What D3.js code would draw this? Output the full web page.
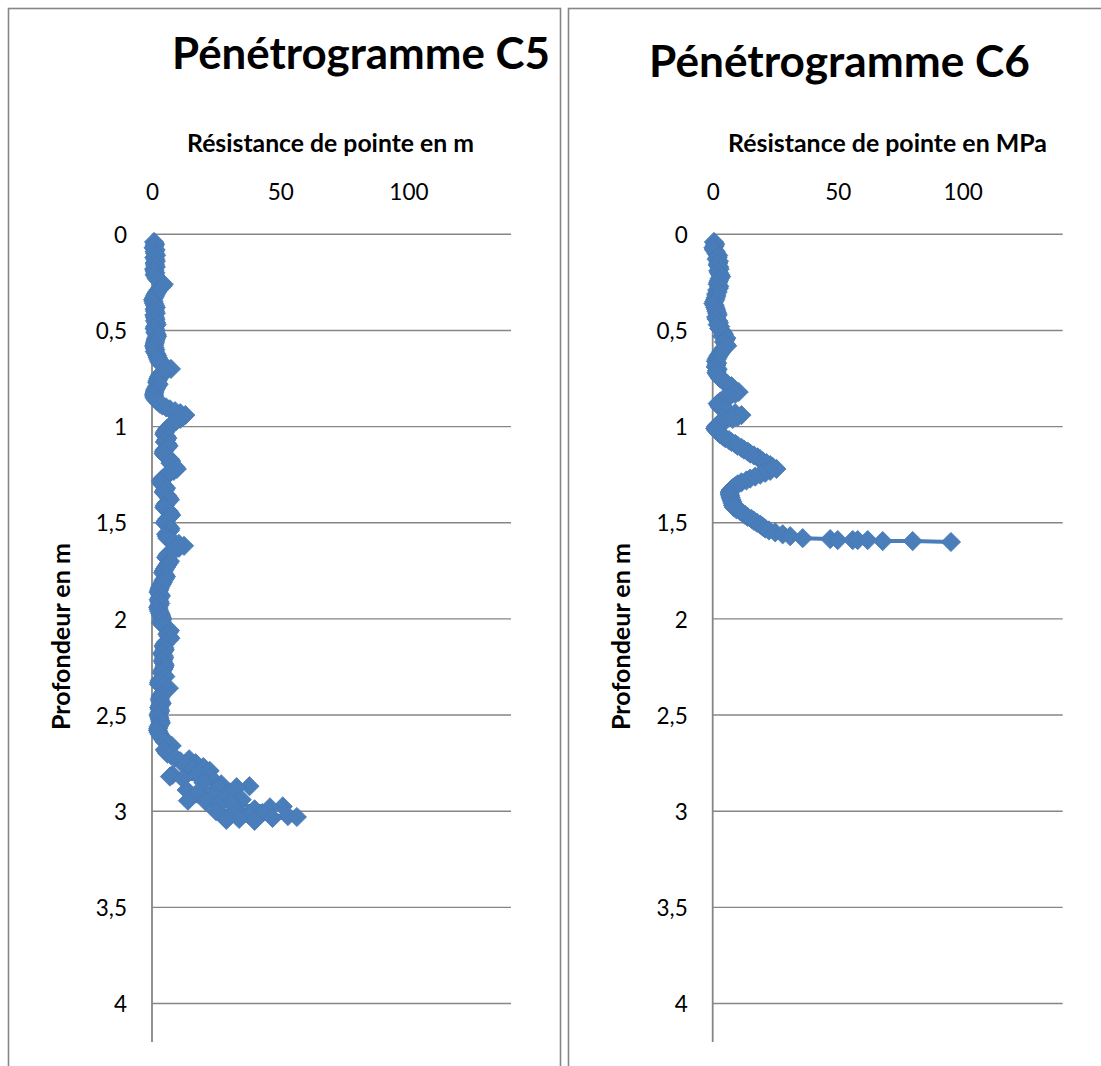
<!DOCTYPE html>
<html><head><meta charset="utf-8">
<script src="https://cdn.jsdelivr.net/npm/d3@7"></script>
<style>
body{margin:0;background:#fff}
svg{display:block}
text{font-family:Lato,"Open Sans",sans-serif;fill:#000}
</style>
</head><body>
<svg id="c" width="1101" height="1066"></svg>
<script>
// ---------- data : C5 ----------
const depthC5 = [
0.04,0.05,0.06,0.07,0.08,0.09,0.10,0.11,0.12,0.13,
0.14,0.15,0.16,0.17,0.18,0.19,0.20,0.21,0.22,0.23,
0.24,0.25,0.26,0.27,0.28,0.29,0.30,0.31,0.32,0.33,
0.34,0.35,0.36,0.37,0.38,0.39,0.40,0.41,0.42,0.43,
0.44,0.45,0.46,0.47,0.48,0.49,0.50,0.51,0.52,0.53,
0.54,0.55,0.56,0.57,0.58,0.59,0.60,0.61,0.62,0.63,
0.64,0.65,0.66,0.67,0.68,0.69,0.70,0.71,0.72,0.73,
0.74,0.75,0.76,0.77,0.78,0.79,0.80,0.81,0.82,0.83,
0.84,0.85,0.86,0.87,0.88,0.89,0.90,0.91,0.92,0.93,
0.94,0.95,0.96,0.97,0.98,0.99,1.00,1.01,1.02,1.03,
1.04,1.05,1.06,1.07,1.08,1.09,1.10,1.11,1.12,1.13,
1.14,1.15,1.16,1.17,1.18,1.19,1.20,1.21,1.22,1.23,
1.24,1.25,1.26,1.27,1.28,1.29,1.30,1.31,1.32,1.33,
1.34,1.35,1.36,1.37,1.38,1.39,1.40,1.41,1.42,1.43,
1.44,1.45,1.46,1.47,1.48,1.49,1.50,1.51,1.52,1.53,
1.54,1.55,1.56,1.57,1.58,1.59,1.60,1.61,1.62,1.63,
1.64,1.65,1.66,1.67,1.68,1.69,1.70,1.71,1.72,1.73,
1.74,1.75,1.76,1.77,1.78,1.79,1.80,1.81,1.82,1.83,
1.84,1.85,1.86,1.87,1.88,1.89,1.90,1.91,1.92,1.93,
1.94,1.95,1.96,1.97,1.98,1.99,2.00,2.01,2.02,2.03,
2.04,2.05,2.06,2.07,2.08,2.09,2.10,2.11,2.12,2.13,
2.14,2.15,2.16,2.17,2.18,2.19,2.20,2.21,2.22,2.23,
2.24,2.25,2.26,2.27,2.28,2.29,2.30,2.31,2.32,2.33,
2.34,2.35,2.36,2.37,2.38,2.39,2.40,2.41,2.42,2.43,
2.44,2.45,2.46,2.47,2.48,2.49,2.50,2.51,2.52,2.53,
2.54,2.55,2.56,2.57,2.58,2.59,2.60,2.61,2.62,2.63,
2.64,2.65,2.66,2.67,2.68,2.69,
2.70,2.71,2.72,2.73,2.74,2.75,2.76,2.77,2.78,2.79,
2.80,2.81,2.82,2.83,2.84,2.85,2.86,2.87,2.875,2.88,
2.89,2.90,2.91,2.92,2.93,2.94,2.945,2.95,2.96,2.97,
2.975,2.98,2.99,3.00,3.005,3.01,3.02,3.025,3.03,3.035,
3.04,3.045,3.05];
const qcC5 = [
0.8,1.2,1.0,0.6,1.4,1.0,1.2,1.6,0.9,1.3,
1.5,1.0,1.2,1.5,0.8,1.0,1.3,1.0,1.5,1.8,
2.5,3.5,4.6,4.0,3.2,2.5,2.0,1.5,1.2,0.8,
0.4,0.6,0.8,1.2,1.5,1.0,1.2,1.5,0.9,1.1,
1.4,1.2,1.6,1.8,1.2,1.0,1.5,1.3,1.8,2.0,
1.6,1.4,1.2,1.0,0.8,1.0,1.3,1.1,1.6,2.0,
2.2,2.5,2.8,3.2,4.0,5.5,7.4,5.5,4.0,3.2,
2.8,2.5,2.2,2.0,2.6,2.0,1.6,1.2,1.0,0.8,
0.8,1.0,1.5,2.2,3.0,4.0,5.5,7.0,9.0,11.0,
13.0,12.0,11.0,9.5,8.5,7.5,7.0,6.0,5.5,5.0,
4.8,5.5,6.0,5.5,5.0,6.0,6.5,5.8,5.0,4.6,
4.5,5.2,6.0,7.0,7.5,7.2,8.0,9.0,9.7,8.5,
7.0,6.0,5.0,4.2,3.5,3.6,4.0,4.8,5.5,5.0,
4.5,5.2,6.0,6.5,7.0,6.2,5.5,5.0,4.8,5.5,
6.5,7.0,7.5,6.8,6.0,5.5,5.0,5.8,6.5,7.2,
7.0,6.2,5.5,5.8,6.0,7.0,8.5,10.5,12.5,10.5,
9.0,7.5,6.5,6.0,5.5,6.2,7.0,6.5,6.0,5.5,
5.0,4.6,4.3,5.0,5.5,5.0,4.5,4.2,3.8,3.4,
3.0,2.8,2.5,3.0,3.5,3.0,2.6,2.9,3.2,2.8,
2.4,2.6,2.8,3.2,3.5,3.8,4.0,3.8,3.5,4.2,
5.0,6.0,7.0,6.5,6.0,6.5,7.2,6.5,5.5,5.0,
4.5,4.8,5.0,4.5,4.0,4.4,4.8,4.5,4.2,4.6,
5.0,4.8,4.5,4.0,3.8,4.5,5.2,4.0,3.0,2.8,
2.7,4.5,6.6,5.5,4.5,4.0,3.5,3.2,3.0,3.4,
3.8,3.2,2.8,3.0,3.2,2.8,2.5,2.8,3.0,3.2,
3.5,3.0,2.6,2.4,2.3,2.6,3.0,3.5,4.0,4.5,
5.0,6.5,7.7,6.2,5.0,5.5,
6.0,7.5,9.0,14.5,11.0,17.0,13.0,20.0,16.0,22.5,
18.0,8.0,7.0,12.0,24.0,20.0,27.0,38.0,33.0,26.0,
13.5,18.0,30.0,24.0,28.0,35.0,14.0,21.0,31.0,26.0,
51.0,46.0,40.0,25.0,33.0,43.0,38.0,53.0,56.5,47.0,
34.0,29.0,40.0];

// ---------- data : C6 ----------
const depthC6 = [
0.04,0.05,0.06,0.07,0.08,0.09,0.10,0.11,0.12,0.13,
0.14,0.15,0.16,0.17,0.18,0.19,0.20,0.21,0.22,0.23,
0.24,0.25,0.26,0.27,0.28,0.29,0.30,0.31,0.32,0.33,
0.34,0.35,0.36,0.37,0.38,0.39,0.40,0.41,0.42,0.43,
0.44,0.45,0.46,0.47,0.48,0.49,0.50,0.51,0.52,0.53,
0.54,0.55,0.56,0.57,0.58,0.59,0.60,0.61,0.62,0.63,
0.64,0.65,0.66,0.67,0.68,0.69,0.70,0.71,0.72,0.73,
0.74,0.75,0.76,0.77,0.78,0.79,0.80,0.81,0.82,0.83,
0.84,0.85,0.86,0.87,0.88,0.89,0.90,0.91,0.92,0.93,
0.94,0.95,0.96,0.97,0.98,0.99,1.00,1.01,1.02,1.03,
1.04,1.05,1.06,1.07,1.08,1.09,1.10,1.11,1.12,1.13,
1.14,1.15,1.16,1.17,1.18,1.19,1.20,1.21,1.22,1.23,
1.24,1.25,1.26,1.27,1.28,1.29,1.30,1.31,1.32,1.33,
1.34,1.35,1.36,1.37,1.38,1.39,1.40,1.41,1.42,1.43,
1.44,1.45,1.46,1.47,1.48,1.49,1.50,1.51,1.52,1.53,
1.54,1.55,1.56,1.57,1.58,1.585,1.59,1.59,1.59,1.59,
1.595,1.595,1.60];
const qcC6 = [
0.5,1.0,0.8,0.3,0.5,1.2,1.5,2.2,2.0,1.6,
2.5,2.2,2.0,2.6,2.8,2.2,2.5,3.0,3.4,2.8,
2.5,2.2,2.0,2.6,2.5,1.8,2.0,1.4,1.5,1.2,
1.0,0.6,0.3,0.8,1.0,1.3,1.5,1.8,2.0,1.4,
1.5,2.2,2.5,2.0,3.0,2.6,3.5,4.0,4.5,3.8,
5.5,5.0,4.5,5.2,5.8,4.6,4.0,3.5,3.0,2.4,
2.0,1.6,1.3,1.8,1.5,1.2,2.0,1.7,1.5,2.0,
2.5,3.0,4.0,5.0,6.0,7.5,8.0,9.0,10.4,9.0,
7.0,5.5,4.0,3.0,2.0,2.5,3.0,4.5,6.0,9.0,
11.5,10.0,8.0,5.0,3.0,2.0,1.3,1.0,1.5,2.2,
3.0,4.0,5.0,6.5,7.5,9.0,10.0,11.5,12.5,14.0,
15.0,16.5,18.0,19.0,20.0,21.5,23.0,24.0,25.5,23.0,
21.0,19.0,17.0,15.0,13.5,11.5,10.0,9.0,8.0,7.2,
6.8,6.8,7.0,7.2,7.5,7.8,8.0,8.2,8.5,9.5,
11.0,12.0,13.0,14.0,15.5,16.5,17.7,19.0,20.0,21.0,
22.5,25.0,28.0,31.0,36.0,47.0,50.0,56.0,58.0,62.0,
68.0,80.0,95.3];

const xTicks = [0,50,100];
const yTicks = [0,0.5,1,1.5,2,2.5,3,3.5,4];
const chartTitles = ["Pénétrogramme C5","Pénétrogramme C6"];
const xAxisTitles = ["Résistance de pointe en m","Résistance de pointe en MPa"];
const yAxisTitles = ["Profondeur en m","Profondeur en m"];

// ---------- layout ----------
const panels = [
  {frameX:8.5, left:152, right:511, titleX:361, titleY:52, xtX:330.5, title:chartTitles[0], xt:xAxisTitles[0], yt:yAxisTitles[0], depth:depthC5, qc:qcC5},
  {frameX:568.5, left:712.7, right:1062.7, titleX:839.5, titleY:59, xtX:887.5, title:chartTitles[1], xt:xAxisTitles[1], yt:yAxisTitles[1], depth:depthC6, qc:qcC6}
];
const titleW = [378, 381], xtW = [287, 319];
const plotTop = 234.3, plotBottom = 1042;
const grey = "#868686", blue = "#4A7EBB";
const fmt = v => String(v).replace(".", ",");

const svg = d3.select("#c");

function fit(sel, w){
  const L = sel.node().getComputedTextLength();
  const fs = parseFloat(sel.attr("font-size"));
  sel.attr("font-size", fs * w / L);
}

panels.forEach((p, i) => {
  const g = svg.append("g");
  g.append("rect").attr("x", p.frameX).attr("y", 8.5).attr("width", 552).attr("height", 1100)
    .attr("fill", "none").attr("stroke", grey).attr("stroke-width", 1.6);

  const x = d3.scaleLinear().domain([0, 140]).range([p.left, p.right]);
  const y = d3.scaleLinear().domain([0, 4.2]).range([plotTop, plotBottom]);

  g.append("g").selectAll("line").data(yTicks).join("line")
    .attr("x1", x(0)).attr("x2", x(140)).attr("y1", d => y(d)).attr("y2", d => y(d))
    .attr("stroke", grey).attr("stroke-width", 1.4);

  g.append("line").attr("x1", x(0)).attr("x2", x(0)).attr("y1", y(0)).attr("y2", y(4.2))
    .attr("stroke", grey).attr("stroke-width", 1.8);

  const xa = d3.axisTop(x).tickValues(xTicks).tickSize(0).tickPadding(0).tickFormat(fmt);
  const gx = g.append("g").attr("transform", `translate(0,${191.5})`).call(xa);
  gx.select(".domain").remove();
  gx.selectAll("text").attr("font-size", 22.5).attr("font-family", "Lato").attr("fill", "#000")
    .attr("dy", "0.36em");

  const ya = d3.axisLeft(y).tickValues(yTicks).tickSize(0).tickPadding(25).tickFormat(fmt);
  const gy = g.append("g").attr("transform", `translate(${x(0)},0)`).call(ya);
  gy.select(".domain").remove();
  gy.selectAll("text").attr("font-size", 22.5).attr("font-family", "Lato").attr("fill", "#000")
    .attr("dy", "0.36em");

  const t = g.append("text").attr("x", p.titleX).attr("y", p.titleY).attr("text-anchor", "middle")
    .attr("dominant-baseline", "central").attr("font-weight", "bold").attr("font-size", 40).text(p.title);
  fit(t, titleW[i]);
  const xt = g.append("text").attr("x", p.xtX).attr("y", 142).attr("text-anchor", "middle")
    .attr("dominant-baseline", "central").attr("font-weight", "bold").attr("font-size", 20).text(p.xt);
  fit(xt, xtW[i]);
  const yt = g.append("text").attr("transform", `translate(${p.frameX + 51},636.5) rotate(-90)`)
    .attr("text-anchor", "middle").attr("dominant-baseline", "central")
    .attr("font-weight", "bold").attr("font-size", 20).text(p.yt);
  fit(yt, 187);

  const n = Math.min(p.depth.length, p.qc.length);
  const pts = p.depth.slice(0, n).map((d, k) => ({d, v: p.qc[k]}));
  g.append("path").datum(pts)
    .attr("d", d3.line().x(o => x(o.v)).y(o => y(o.d)))
    .attr("fill", "none").attr("stroke", blue).attr("stroke-width", 4).attr("stroke-linejoin", "round");
  const sym = d3.symbol().type(d3.symbolSquare).size(185);
  g.append("g").selectAll("path").data(pts).join("path")
    .attr("d", sym)
    .attr("transform", o => `translate(${x(o.v)},${y(o.d)}) rotate(45)`)
    .attr("fill", blue).attr("stroke", "#4779B5").attr("stroke-width", 0.8);
});
</script>
</body></html>
